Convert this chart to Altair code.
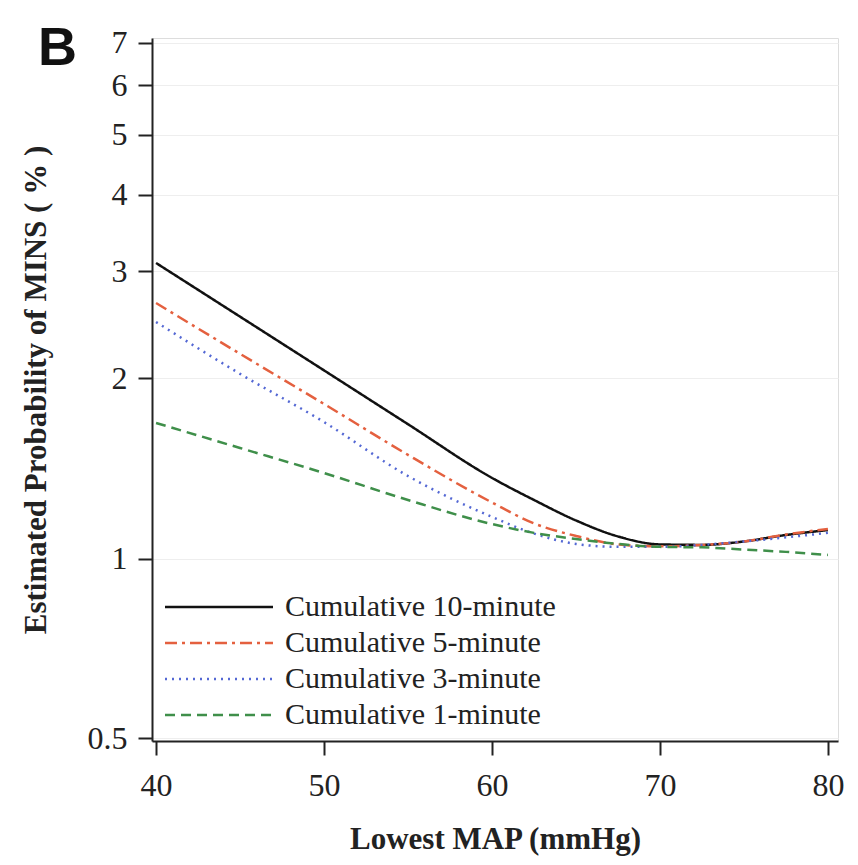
import math
import altair as alt
import pandas as pd

# ---- data ----
map_x = [40, 45, 50, 55, 60, 62.5, 65, 67.5, 70, 72.5, 75, 77.5, 80]
series_names = ["Cumulative 10-minute", "Cumulative 5-minute",
                "Cumulative 3-minute", "Cumulative 1-minute"]
prob_10min = [3.096, 2.527, 2.060, 1.677, 1.365, 1.254, 1.159, 1.090, 1.057, 1.055, 1.069, 1.096, 1.117]
prob_5min = [2.661, 2.194, 1.812, 1.491, 1.242, 1.146, 1.092, 1.057, 1.049, 1.055, 1.069, 1.098, 1.122]
prob_3min = [2.476, 2.033, 1.691, 1.375, 1.175, 1.102, 1.059, 1.047, 1.047, 1.055, 1.069, 1.086, 1.105]
prob_1min = [1.685, 1.531, 1.391, 1.254, 1.143, 1.105, 1.079, 1.059, 1.047, 1.045, 1.036, 1.027, 1.015]

x_ticks = [40, 50, 60, 70, 80]
y_ticks = [0.5, 1, 2, 3, 4, 5, 6, 7]

colors = ["#111111", "#e4603f", "#5468d4", "#3f8f4a"]
dashes = [[1, 0], [12, 5, 3, 5], [2, 5], [10, 6]]

rows = []
for name, vals in zip(series_names, [prob_10min, prob_5min, prob_3min, prob_1min]):
    for xv, pv in zip(map_x, vals):
        rows.append({"map": xv, "prob": pv, "series": name})
df = pd.DataFrame(rows)


def logit_pct(p):
    q = p / 100.0
    return math.log(q / (1 - q))


y_tick_pos = [logit_pct(t) for t in y_ticks]
FONT = "Liberation Serif"

legend_cfg = dict(title=None, orient="none", legendX=52, legendY=554,
                  symbolType="M -4 0 L 4 0", symbolSize=729,
                  symbolStrokeWidth=2.5, labelFont=FONT,
                  labelFontSize=30, labelColor="#222", labelLimit=500,
                  labelOffset=51, rowPadding=6, padding=0)

lines = alt.Chart(df).transform_calculate(
    lp="log(datum.prob/100/(1-datum.prob/100))"
).mark_line(strokeWidth=2.5, interpolate="monotone").encode(
    x=alt.X("map:Q",
            scale=alt.Scale(domain=[39.76, 80.6], nice=False, zero=False),
            axis=alt.Axis(values=x_ticks, title="Lowest MAP (mmHg)", grid=False,
                          labelFont=FONT, labelFontSize=32, labelColor="#222",
                          labelPadding=15, tickSize=14, tickWidth=2, tickColor="#222",
                          domainColor="#222", domainWidth=2,
                          titleFont=FONT, titleFontSize=31, titleFontWeight="bold",
                          titleColor="#222", titleX=343, titleY=107,
                          titleBaseline="alphabetic", titleAlign="center")),
    y=alt.Y("lp:Q",
            scale=alt.Scale(domain=[-5.3044, -2.5679], nice=False, zero=False),
            axis=alt.Axis(values=y_tick_pos,
                          labelExpr="datum.value < -5 ? '0.5' : format(100/(1+exp(-datum.value)), '.0f')",
                          title="Estimated Probability of MINS ( % )",
                          grid=True, gridColor="#eeeeee", gridWidth=1,
                          labelFont=FONT, labelFontSize=32, labelColor="#222",
                          labelPadding=11, tickSize=14, tickWidth=2, tickColor="#222",
                          domainColor="#222", domainWidth=2,
                          titleFont=FONT, titleFontSize=31, titleFontWeight="bold",
                          titleColor="#222", titleX=-107, titleY=351.5, titleAngle=270,
                          titleBaseline="alphabetic", titleAlign="center")),
    color=alt.Color("series:N",
                    scale=alt.Scale(domain=series_names, range=colors),
                    legend=alt.Legend(**legend_cfg)),
    strokeDash=alt.StrokeDash("series:N",
                              scale=alt.Scale(domain=series_names, range=dashes),
                              legend=alt.Legend(**legend_cfg)),
)

panel = pd.DataFrame({"t": ["B"]})
blabel = alt.Chart(panel).mark_text(
    font="Liberation Sans", fontWeight="bold", fontSize=54, color="#111",
    align="left", baseline="alphabetic"
).encode(text="t:N", x=alt.value(-114), y=alt.value(27))

chart = alt.layer(lines, blabel).properties(
    width=686, height=703,
    padding={"left": 144, "top": 30, "right": 12, "bottom": 116},
    autosize=alt.AutoSizeParams(type="none"),
).configure_view(stroke=None).configure(background="white")

chart.save("out.html", embed_options={"renderer": "svg", "actions": False})
